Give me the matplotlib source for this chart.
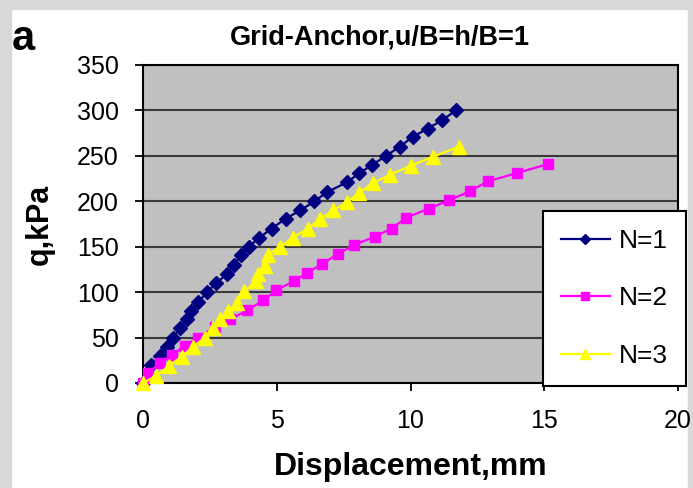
import matplotlib
matplotlib.use("Agg")
import matplotlib.pyplot as plt
from matplotlib.patches import Rectangle

# ---- data ----
x_n1 = [0, 0.31, 0.63, 0.88, 1.13, 1.38, 1.63, 1.81, 2.06, 2.4, 2.73, 3.15, 3.41, 3.66,
        3.96, 4.35, 4.81, 5.34, 5.88, 6.41, 6.88, 7.63, 8.09, 8.56, 9.09, 9.59, 10.09,
        10.64, 11.17, 11.7]
y_n1 = [0, 20, 30, 40, 50, 60, 70, 79, 89, 100, 110, 120, 130, 141, 150, 160, 170, 181,
        190, 200, 210, 221, 231, 240, 250, 260, 271, 280, 289, 300]

x_n2 = [0, 0.19, 0.63, 1.1, 1.56, 2.06, 2.69, 3.25, 3.9, 4.5, 4.98, 5.63, 6.13, 6.69,
        7.29, 7.9, 8.66, 9.29, 9.85, 10.69, 11.44, 12.21, 12.9, 13.97, 15.15]
y_n2 = [0, 11, 22, 31, 41, 50, 62, 70, 80, 91, 102, 112, 121, 131, 142, 152, 161, 170,
        182, 192, 201, 211, 222, 231, 241]

x_n3 = [0, 0.5, 0.98, 1.44, 1.88, 2.31, 2.6, 2.88, 3.19, 3.53, 3.79, 4.23, 4.29, 4.56,
        4.66, 5.13, 5.6, 6.15, 6.6, 7.1, 7.63, 8.06, 8.6, 9.22, 10.0, 10.84, 11.81]
y_n3 = [0, 8, 19, 29, 40, 50, 60, 70, 79, 88, 101, 112, 120, 129, 141, 150, 160, 170,
        180, 190, 199, 209, 220, 229, 239, 249, 260]

labels = ["N=1", "N=2", "N=3"]
x_ticks = [0, 5, 10, 15, 20]
y_ticks = [0, 50, 100, 150, 200, 250, 300, 350]

title = "Grid-Anchor,u/B=h/B=1"
xlabel = "Displacement,mm"
ylabel = "q,kPa"
panel = "a"

plt.rcParams['font.family'] = ['Liberation Sans', 'DejaVu Sans']

W, H = 693, 488
fig = plt.figure(figsize=(W / 100, H / 100), dpi=100)
fig.patch.set_facecolor("white")

# light grey page border
grey = "#d9d9d9"
fig.patches.append(Rectangle((0, 0), 11 / W, 1, transform=fig.transFigure, color=grey, zorder=-10))
fig.patches.append(Rectangle((0, 1 - 9 / H), 1, 9 / H, transform=fig.transFigure, color=grey, zorder=-10))
fig.patches.append(Rectangle((1 - 5 / W, 0), 5 / W, 1, transform=fig.transFigure, color=grey, zorder=-10))

ax = fig.add_axes([143 / W, 1 - 383 / H, (678 - 143) / W, (383 - 65) / H])
ax.set_facecolor("#c0c0c0")
ax.set_xlim(0, 20)
ax.set_ylim(0, 350)
ax.set_xticks(x_ticks)
ax.set_yticks(y_ticks)
ax.yaxis.grid(True, color="#3a3a3a", linewidth=1.5)
ax.set_axisbelow(True)
for s in ax.spines.values():
    s.set_color("black")
    s.set_linewidth(1.5)
ax.tick_params(axis="both", direction="out", length=6, width=1.3, labelsize=18, colors="black")
ax.tick_params(axis="y", pad=11.5)
ax.tick_params(axis="x", pad=12.5)

l1, = ax.plot(x_n1, y_n1, color="#000080", marker="D", markersize=7, linewidth=1.6,
              label=labels[0], clip_on=False, zorder=3)
l2, = ax.plot(x_n2, y_n2, color="#ff00ff", marker="s", markersize=7.5, linewidth=1.6,
              label=labels[1], clip_on=False, zorder=4)
l3, = ax.plot(x_n3, y_n3, color="#ffff00", marker="^", markersize=9.5, linewidth=1.6,
              label=labels[2], clip_on=False, zorder=5)

ax.set_title(title, fontsize=19.5, fontweight="bold", pad=15, x=(380 - 143) / (678 - 143))
ax.set_xlabel(xlabel, fontsize=23, fontweight="bold", labelpad=14)
ax.set_ylabel(ylabel, fontsize=22, fontweight="bold", labelpad=16)

fig.text(12 / W, 1 - 50 / H, panel, fontsize=30, fontweight="bold", ha="left", va="baseline")

leg = ax.legend(handles=[l1, l2, l3], loc="upper left",
                bbox_to_anchor=((543 - 143) / (678 - 143), (383 - 211) / (383 - 65)),
                frameon=True, fancybox=False, fontsize=19, markerscale=0.7,
                labelspacing=1.27, handlelength=1.85, borderpad=0.68, handletextpad=0.35,
                borderaxespad=0)
leg.get_frame().set_edgecolor("black")
leg.get_frame().set_linewidth(1.5)
leg.get_frame().set_facecolor("white")
leg.get_frame().set_alpha(1)

fig.savefig("out.png", dpi=100)
